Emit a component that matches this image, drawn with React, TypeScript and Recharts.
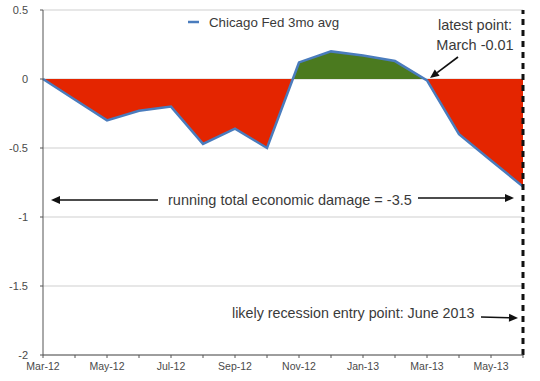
import React from 'react';
import { AreaChart, Area, XAxis, YAxis, CartesianGrid, ReferenceLine } from 'recharts';

const months = ['Mar-12', 'Apr-12', 'May-12', 'Jun-12', 'Jul-12', 'Aug-12', 'Sep-12', 'Oct-12', 'Nov-12', 'Dec-12', 'Jan-13', 'Feb-13', 'Mar-13', 'Apr-13', 'May-13', 'Jun-13'];
const chicagoFed3mo = [0, -0.15, -0.3, -0.23, -0.2, -0.47, -0.36, -0.5, 0.12, 0.2, 0.17, 0.13, -0.01, -0.4, -0.59, -0.78];
const labeledMonths = ['Mar-12', 'May-12', 'Jul-12', 'Sep-12', 'Nov-12', 'Jan-13', 'Mar-13', 'May-13'];
const yTicks = [0.5, 0, -0.5, -1, -1.5, -2];
const recessionEntry = 'Jun-13';
const seriesName = 'Chicago Fed 3mo avg';

const data = months.map((m, i) => ({ month: m, value: chicagoFed3mo[i] }));

const maxV = Math.max(...chicagoFed3mo, 0);
const minV = Math.min(...chicagoFed3mo, 0);
const zeroOffset = maxV / (maxV - minV);

const FONT = '"Liberation Sans", Arial, Helvetica, sans-serif';
const TEXT = '#3a3a3a';
const LINE = '#4a7cbd';

const Arrow = ({ x1, y1, x2, y2 }: { x1: number; y1: number; x2: number; y2: number }) => {
  const ang = Math.atan2(y2 - y1, x2 - x1);
  const L = 9, W = 4;
  const bx = x2 - L * Math.cos(ang);
  const by = y2 - L * Math.sin(ang);
  const px = -Math.sin(ang) * W;
  const py = Math.cos(ang) * W;
  return (
    <g>
      <line x1={x1} y1={y1} x2={bx} y2={by} stroke="#111" strokeWidth={1.6} />
      <polygon points={`${x2},${y2} ${bx + px},${by + py} ${bx - px},${by - py}`} fill="#111" />
    </g>
  );
};

export default function App() {
  return (
    <div style={{ position: 'fixed', left: 0, top: 0, width: 540, height: 381, background: '#fff' }}>
      <AreaChart width={540} height={381} data={data} margin={{ top: 10, right: 17, bottom: 0, left: 0 }}>
        <defs>
          <linearGradient id="splitFill" x1="0" y1="0" x2="0" y2="1">
            <stop offset={0} stopColor="#4b7a1f" />
            <stop offset={zeroOffset} stopColor="#4b7a1f" />
            <stop offset={zeroOffset} stopColor="#e42500" />
            <stop offset={1} stopColor="#e42500" />
          </linearGradient>
        </defs>
        <CartesianGrid vertical={false} stroke="#cfcfcf" strokeWidth={1} />
        <XAxis
          dataKey="month"
          interval={0}
          height={26}
          tickLine={{ stroke: '#555' }}
          axisLine={{ stroke: '#555' }}
          tickSize={3}
          tickMargin={5}
          tick={{ fill: '#4a4a4a', fontSize: 10.5, fontFamily: FONT }}
          tickFormatter={(v: string) => (labeledMonths.includes(v) ? v : '')}
        />
        <YAxis
          type="number"
          domain={[-2, 0.5]}
          ticks={yTicks}
          width={43}
          tickLine={{ stroke: '#555' }}
          axisLine={{ stroke: '#555' }}
          tickSize={3}
          tickMargin={12}
          tick={{ fill: '#4a4a4a', fontSize: 11, fontFamily: FONT }}
          tickFormatter={(v: number) => String(v)}
        />
        <Area
          type="linear"
          dataKey="value"
          name={seriesName}
          baseValue={0}
          stroke={LINE}
          strokeWidth={2.5}
          fill="url(#splitFill)"
          fillOpacity={1}
          isAnimationActive={false}
          dot={false}
          activeDot={false}
        />
        <ReferenceLine x={recessionEntry} stroke="#111" strokeWidth={3} strokeDasharray="6 5" />
      </AreaChart>
      <svg width={540} height={381} style={{ position: 'absolute', left: 0, top: 0, pointerEvents: 'none' }}>
        <line x1={188} y1={22} x2={199} y2={22} stroke={LINE} strokeWidth={2.5} />
        <text x={209} y={26.5} fontFamily={FONT} fontSize={13.3} fill={TEXT}>{seriesName}</text>
        <g fontFamily={FONT} fontSize={14.5} fill={TEXT}>
          <text x={475} y={30} textAnchor="middle">latest point:</text>
          <text x={475} y={50} textAnchor="middle">March -0.01</text>
          <text x={168} y={205}>running total economic damage = -3.5</text>
          <text x={232} y={318} fontSize={14.3}>likely recession entry point: June 2013</text>
        </g>
        <Arrow x1={458} y1={57} x2={430} y2={78} />
        <Arrow x1={158} y1={200} x2={51} y2={200} />
        <Arrow x1={418} y1={198} x2={514} y2={198} />
        <Arrow x1={481} y1={317} x2={518} y2={318} />
      </svg>
    </div>
  );
}
